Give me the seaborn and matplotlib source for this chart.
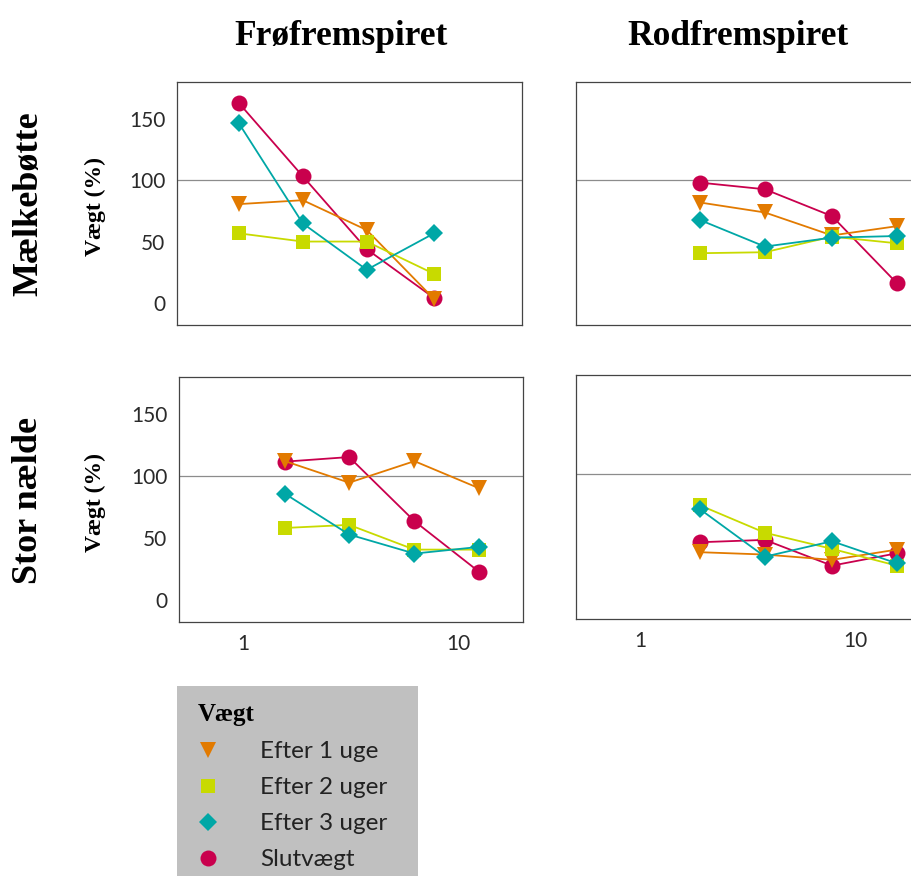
import numpy as np
import pandas as pd
import matplotlib
matplotlib.use('Agg')
import matplotlib.pyplot as plt
import seaborn as sns
from matplotlib.lines import Line2D
from matplotlib.patches import Rectangle
from matplotlib.ticker import NullLocator

# --- Data ---
serier = ['Efter 1 uge', 'Efter 2 uger', 'Efter 3 uger', 'Slutvægt']
farver = {'Efter 1 uge': '#E27A00', 'Efter 2 uger': '#C8DA00',
          'Efter 3 uger': '#00A7A6', 'Slutvægt': '#C9004D'}
markoerer = {'Efter 1 uge': 'v', 'Efter 2 uger': 's',
             'Efter 3 uger': 'D', 'Slutvægt': 'o'}
stoerrelse = {'Efter 1 uge': 11.5, 'Efter 2 uger': 10.5,
              'Efter 3 uger': 9.5, 'Slutvægt': 11.5}
tegne_orden = ['Slutvægt', 'Efter 1 uge', 'Efter 2 uger', 'Efter 3 uger']

planter = ['Mælkebøtte', 'Stor nælde']
spirer = ['Frøfremspiret', 'Rodfremspiret']

# Mælkebøtte, frøfremspiret
dosis_mk_froe = [0.97, 1.92, 3.8, 7.8]
mk_froe_uge1 = [80.5, 83.7, 59.4, 3.2]
mk_froe_uge2 = [56.7, 50.0, 50.0, 23.7]
mk_froe_uge3 = [146.4, 64.8, 27.0, 56.7]
mk_froe_slut = [162.9, 103.2, 43.8, 4.0]

# Mælkebøtte, rodfremspiret
dosis_mk_rod = [1.9, 3.8, 7.8, 15.6]
mk_rod_uge1 = [81.8, 73.7, 55.0, 62.5]
mk_rod_uge2 = [40.5, 41.3, 54.0, 48.6]
mk_rod_uge3 = [67.5, 45.9, 53.2, 54.5]
mk_rod_slut = [98.0, 92.6, 70.7, 16.2]

# Stor nælde, frøfremspiret
dosis_sn_froe = [1.56, 3.1, 6.24, 12.5]
sn_froe_uge1 = [112.0, 94.6, 112.0, 90.0]
sn_froe_uge2 = [58.0, 60.5, 40.5, 40.5]
sn_froe_uge3 = [85.6, 52.7, 37.3, 42.7]
sn_froe_slut = [111.6, 115.3, 63.5, 22.4]

# Stor nælde, rodfremspiret
dosis_sn_rod = [1.9, 3.8, 7.8, 15.6]
sn_rod_uge1 = [36.2, 34.3, 30.0, 38.3]
sn_rod_uge2 = [74.2, 52.0, 38.9, 25.3]
sn_rod_uge3 = [71.0, 32.6, 45.1, 27.2]
sn_rod_slut = [44.3, 46.2, 25.3, 35.3]

paneler = {
    ('Mælkebøtte', 'Frøfremspiret'): (dosis_mk_froe, [mk_froe_uge1, mk_froe_uge2, mk_froe_uge3, mk_froe_slut]),
    ('Mælkebøtte', 'Rodfremspiret'): (dosis_mk_rod, [mk_rod_uge1, mk_rod_uge2, mk_rod_uge3, mk_rod_slut]),
    ('Stor nælde', 'Frøfremspiret'): (dosis_sn_froe, [sn_froe_uge1, sn_froe_uge2, sn_froe_uge3, sn_froe_slut]),
    ('Stor nælde', 'Rodfremspiret'): (dosis_sn_rod, [sn_rod_uge1, sn_rod_uge2, sn_rod_uge3, sn_rod_slut]),
}

rows = []
for (plante, spire), (dosis, vaerdier) in paneler.items():
    for serie, v in zip(serier, vaerdier):
        for d, y in zip(dosis, v):
            rows.append({'plante': plante, 'spire': spire, 'serie': serie, 'dosis': d, 'vaegt': y})
df = pd.DataFrame(rows)

# --- Stil ---
sns.set_style('white')
plt.rcParams['font.family'] = ['Lato', 'DejaVu Sans']
serif = {'family': 'Liberation Serif', 'weight': 'bold', 'color': 'black'}

W, H = 912, 876
fig = plt.figure(figsize=(W / 100, H / 100), dpi=100)

# akse-placering i pixel: (venstre, top, bredde, hoejde)
placering = {
    ('Mælkebøtte', 'Frøfremspiret'): (177, 82, 345, 243),
    ('Mælkebøtte', 'Rodfremspiret'): (575.7, 82, 344, 243),
    ('Stor nælde', 'Frøfremspiret'): (179, 377, 344, 245),
    ('Stor nælde', 'Rodfremspiret'): (575.7, 375, 344, 244),
}

for (plante, spire), (l, t, w, h) in placering.items():
    ax = fig.add_axes([l / W, 1 - (t + h) / H, w / W, h / H])
    ax.set_xscale('log')
    sub = df[(df.plante == plante) & (df.spire == spire)]
    ax.axhline(100, color='#8c8c8c', lw=0.9, zorder=1)
    for z, serie in enumerate(tegne_orden):
        s = sub[sub.serie == serie]
        sns.lineplot(x=s['dosis'].values, y=s['vaegt'].values, ax=ax,
                     color=farver[serie], marker=markoerer[serie],
                     markersize=stoerrelse[serie], markeredgewidth=0,
                     linewidth=1.3, sort=False, estimator=None, zorder=3 + z)
    ax.set_xlim(10 ** -0.3, 10 ** 1.3)
    ax.set_ylim(-18, 180)
    ax.set_xticks([1, 10])
    ax.set_xticklabels(['1', '10'])
    ax.xaxis.set_minor_locator(NullLocator())
    ax.set_yticks([0, 50, 100, 150])
    ax.set_xlabel('')
    ax.set_ylabel('')
    ax.tick_params(direction='in', length=5, width=0.9, color='#444',
                   labelcolor='#2a2a2a', labelsize=15, pad=8.5)
    ax.tick_params(axis='x', labelbottom=(plante == 'Stor nælde'))
    ax.tick_params(axis='y', labelleft=(spire == 'Frøfremspiret'))
    for sp in ax.spines.values():
        sp.set_color('#444')
        sp.set_linewidth(0.9)

# kolonne-titler
fig.text(341 / W, 1 - 45 / H, 'Frøfremspiret', ha='center', va='baseline', fontsize=25.5, **serif)
fig.text(738.5 / W, 1 - 45 / H, 'Rodfremspiret', ha='center', va='baseline', fontsize=25.5, **serif)

# raekke-titler og y-etiketter
for plante, yc in zip(planter, [203.5, 500]):
    fig.text(29 / W, 1 - yc / H, plante, rotation=90, ha='center', va='center', fontsize=26, **serif)
for yc in [207, 503]:
    fig.text(95 / W, 1 - yc / H, 'Vægt (%)', rotation=90, ha='center', va='center', fontsize=17, **serif)

# signaturforklaring
fig.add_artist(Rectangle((176.7 / W, 0), 241.3 / W, 190 / H, transform=fig.transFigure,
                         facecolor='#C0C0C0', edgecolor='none', zorder=0))
handles = [Line2D([], [], marker=markoerer[s], color=farver[s], linestyle='none',
                  markersize=stoerrelse[s], markeredgewidth=0) for s in serier]
leg = fig.legend(handles=handles, labels=serier, loc='upper left',
                 bbox_to_anchor=(198 / W, 1 - 703 / H), frameon=False,
                 borderpad=0, borderaxespad=0, handlelength=0.85, handletextpad=1.7,
                 labelspacing=0.62, fontsize=17.5, title='Vægt', alignment='left',
                 title_fontproperties={'family': 'Liberation Serif', 'weight': 'bold', 'size': 18})
leg.get_title().set_color('black')
for txt in leg.get_texts():
    txt.set_color('#222')

fig.savefig('out.png', dpi=100)
